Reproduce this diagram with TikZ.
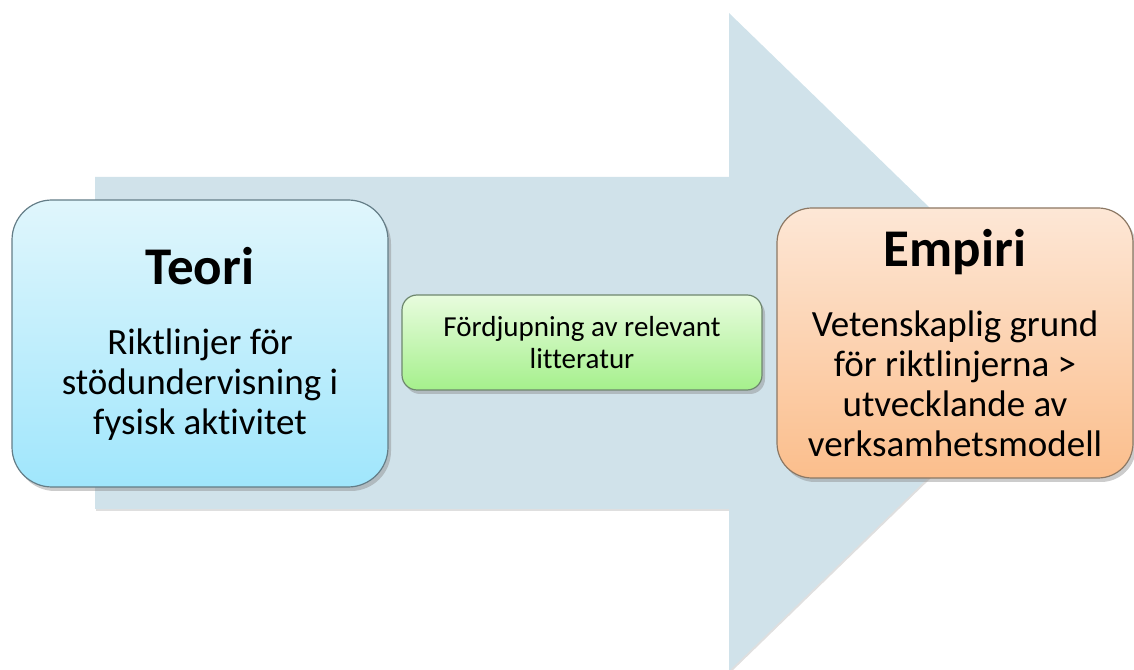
\documentclass[tikz,border=0pt]{standalone}
\usepackage{fontspec}
\setmainfont{Carlito}[Ligatures=NoCommon]
\usetikzlibrary{shadows}

\definecolor{arrowfill}{RGB}{208,226,234}
\definecolor{teoritop}{RGB}{224,246,252}
\definecolor{teoribot}{RGB}{160,230,252}
\definecolor{teoriline}{RGB}{100,125,135}
\definecolor{greentop}{RGB}{232,252,222}
\definecolor{greenbot}{RGB}{165,240,140}
\definecolor{greenline}{RGB}{110,135,110}
\definecolor{empiritop}{RGB}{253,231,214}
\definecolor{empiribot}{RGB}{251,190,140}
\definecolor{empiriline}{RGB}{140,120,100}

\newcommand\boxtitle[1]{{\fontsize{53}{53}\selectfont\bfseries #1\par}\vspace{30pt}}

\begin{document}
\begin{tikzpicture}[x=1pt, y=1pt,
    cardbox/.style={line width=1.2pt, inner sep=0pt, align=flush center,
      font=\fontsize{37}{40}\selectfont,
      drop shadow={shadow xshift=3pt, shadow yshift=-4pt, opacity=0.4}}]
  \useasboundingbox (0,0) rectangle (1134,669);

  % big arrow in the back
  \fill[arrowfill, drop shadow={shadow xshift=1pt, shadow yshift=-2pt, opacity=0.25}]
    (95,160) -- (729,160) -- (729,-2) -- (1068,327) -- (729,656) -- (729,492) -- (95,492) -- cycle;

  \node[cardbox, draw=teoriline, top color=teoritop, bottom color=teoribot,
    minimum width=376pt, minimum height=287pt, text width=360pt, rounded corners=40pt]
    (teori) at (200,325.5) {\boxtitle{Teori}Riktlinjer för\\stödundervisning i\\fysisk aktivitet};

  \node[cardbox, draw=greenline, top color=greentop, bottom color=greenbot,
    minimum width=360pt, minimum height=95pt, text width=350pt, rounded corners=15pt,
    font=\fontsize{29}{32}\selectfont]
    (fordjupning) at (582,326.5) {Fördjupning av relevant\\litteratur};

  \node[cardbox, draw=empiriline, top color=empiritop, bottom color=empiribot,
    minimum width=356pt, minimum height=270pt, text width=346pt, rounded corners=35pt]
    (empiri) at (955,326) {\boxtitle{Empiri}Vetenskaplig grund\\för riktlinjerna >\\utvecklande av\\verksamhetsmodell};
\end{tikzpicture}
\end{document}
